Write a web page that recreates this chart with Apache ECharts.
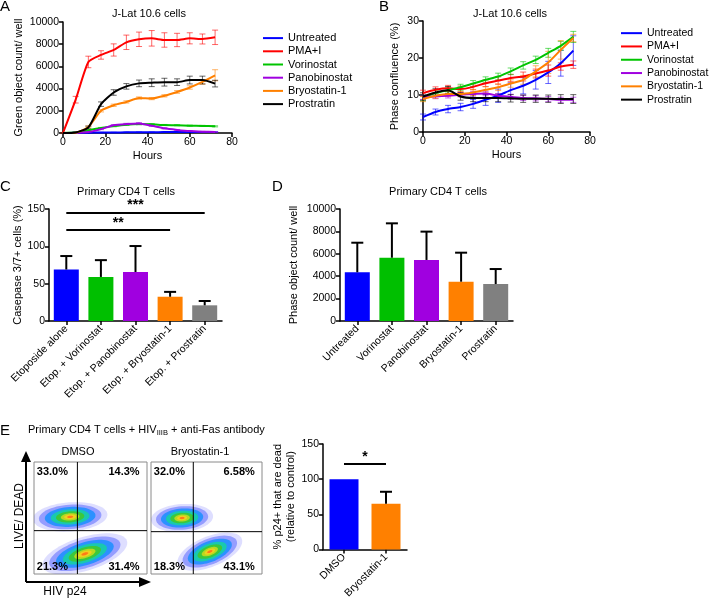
<!DOCTYPE html>
<html><head><meta charset="utf-8">
<script src="https://cdn.jsdelivr.net/npm/echarts@6/dist/echarts.min.js"></script>
<style>html,body{margin:0;padding:0;background:#fff}#c{width:712px;height:601px}</style>
</head><body><div id="c"></div><script>
// ---------- DATA ----------
const hours = [0,6,12,18,24,30,36,42,48,54,60,66,72];
const treatNames = ['Untreated','PMA+I','Vorinostat','Panobinostat','Bryostatin-1','Prostratin'];
// Panel A: green object count / well
const aUntreated = [0,20,30,40,50,60,70,70,80,80,80,90,90];
const aPma       = [0,3000,6400,7030,7480,8170,8440,8530,8380,8380,8530,8470,8620];
const aVorino    = [0,60,250,450,620,750,800,780,720,700,660,640,600];
const aPano      = [0,20,80,350,700,800,850,650,420,280,170,120,90];
const aBryo      = [0,30,550,2000,2500,2800,3150,3100,3350,3700,4100,4600,5200];
const aProst     = [0,50,500,2600,3650,4200,4470,4530,4580,4580,4770,4770,4450];
const aUntreatedErr = [10,10,10,15,15,15,15,15,20,20,20,20,20];
const aPmaErr       = [50,300,520,380,550,650,650,700,650,600,500,450,650];
const aVorinoErr    = [10,20,40,50,60,60,60,60,50,50,50,50,50];
const aPanoErr      = [10,10,30,50,60,70,80,60,50,40,30,30,20];
const aBryoErr      = [10,20,80,100,100,100,100,100,100,120,150,200,500];
const aProstErr     = [10,30,120,200,250,250,300,350,350,300,350,350,300];
// Panel B: phase confluence (%)
const bUntreated = [4.05,5.4,6.2,6.75,7.6,8.7,9.8,11.3,12.5,14.1,16.1,18.6,22.0];
const bPma       = [10.5,11.4,11.8,11.6,12.2,13.2,13.9,14.6,15.0,15.8,16.6,17.7,18.2];
const bVorino    = [9.2,10.5,11.3,12.1,13.1,14.1,15.0,16.4,18.0,19.5,21.4,23.3,25.7];
const bPano      = [9.4,9.6,9.8,10.1,10.3,10.4,9.8,9.5,9.2,9.1,8.9,8.7,8.7];
const bBryo      = [8.9,9.8,10.3,10.3,10.7,11.4,12.1,13.1,14.1,16.4,18.8,22.2,25.4];
const bProst     = [9.6,10.7,11.3,9.6,9.2,9.2,9.2,9.1,9.0,9.0,9.0,8.9,8.9];
const bUntreatedErr = [0.8,0.8,1,1,1.2,1.5,1.8,2,2.2,2.5,3,3.5,4];
const bPmaErr       = [0.8,0.8,0.8,0.8,0.8,0.9,1,1,1.2,1.2,1.5,1,1];
const bVorinoErr    = [0.8,0.8,0.8,0.8,0.8,0.8,0.9,0.9,1,1,1.2,1.2,1.5];
const bPanoErr      = [0.6,0.6,0.6,0.6,0.6,0.6,0.6,0.7,0.7,0.7,0.7,0.7,0.7];
const bBryoErr      = [0.7,0.7,0.7,0.7,0.8,0.8,0.9,1,1.2,1.5,3,2.5,1];
const bProstErr     = [1,1,1,1,1,1,1,1,1,1,1,1.2,1.2];
// Panel C: caspase 3/7+ cells (%)
const cCats = ['Etoposide alone','Etop. + Vorinostat','Etop. + Panobinostat','Etop. + Bryostatin-1','Etop. + Prostratin'];
const cVals = [69,59,65.6,32.5,21];
const cErrs = [18,22.5,34.8,6.5,5.8];
const cSig  = [['***',0,4,145.6],['**',0,3,121.9]];
// Panel D: phase object count / well
const dCats = ['Untreated','Vorinostat','Panobinostat','Bryostatin-1','Prostratin'];
const dVals = [4350,5650,5450,3510,3300];
const dErrs = [2640,3070,2530,2590,1340];
// Panel E: flow plots (quadrant %), gates, cell populations [cx, cy, spreadX, spreadY, angleDeg]
const eFlowTitles = ['DMSO','Bryostatin-1'];
const eDmsoPct = ['33.0%','14.3%','21.3%','31.4%'];
const eBryoPct = ['32.0%','6.58%','18.3%','43.1%'];
const eDmsoGate = [38.4,38.7];
const eBryoGate = [38.1,37.8];
const eDmsoPops = [[32,51,33,13,4],[45,18,39,15,17]];
const eBryoPops = [[28,50,28,12.5,4],[53,20,31,13.5,22]];
// Panel E bar: % p24+ dead relative to control
const eCats = ['DMSO','Bryostatin-1'];
const eVals = [100,65];
const eErrs = [0,17];
const eSig  = [['*',0,1,121.6]];

// ---------- STYLE ----------
const FONT = '"Liberation Sans", Arial, Helvetica, sans-serif';
const lineColors = ['#0000ff','#ff0000','#00c400','#a000e0','#ff8000','#000000'];
const barColorsC = ['#0000ff','#00bf00','#a000e0','#ff8000','#808080'];
const barColorsD = ['#0000ff','#00bf00','#a000e0','#ff8000','#808080'];
const barColorsE = ['#0000ff','#ff8000'];
const axLine = {show:true, lineStyle:{color:'#000', width:1.5}};
const axTick = {show:true, length:4, lineStyle:{color:'#000', width:1.5}};
const axLab = {color:'#000', fontSize:10.5, fontFamily:FONT, margin:4, formatter: v => String(v)};
const nameTS = {color:'#000', fontSize:11, fontFamily:FONT};
const titleTS = {fontSize:11, fontWeight:'normal', color:'#000', fontFamily:FONT};
const letterTS = {fontSize:15, fontWeight:'normal', color:'#000', fontFamily:FONT};

function valueAxis(gi, min, max, interval, name, gap, extra) {
  return Object.assign({type:'value', gridIndex:gi, min, max, interval, name, nameLocation:'middle', nameGap:gap,
    nameTextStyle:nameTS, axisLine:axLine, axisTick:axTick, axisLabel:axLab, splitLine:{show:false}}, extra||{});
}
function catAxis(gi, cats) {
  return {type:'category', gridIndex:gi, data:cats, axisLine:axLine,
    axisTick:{show:true, alignWithLabel:true, length:4, lineStyle:{color:'#000', width:1.5}},
    axisLabel:{color:'#000', fontSize:10.5, fontFamily:FONT, rotate:45, interval:0, margin:6}};
}
function hiddenAxis(gi){ return {type:'value', gridIndex:gi, min:0, max:100, show:false}; }

function errRender(color) {
  return function(params, api) {
    const x = api.value(0);
    const p1 = api.coord([x, api.value(1)]), p2 = api.coord([x, api.value(2)]);
    const w = 3, st = {stroke:color, lineWidth:1, opacity:0.6};
    return {type:'group', children:[
      {type:'line', shape:{x1:p1[0],y1:p1[1],x2:p2[0],y2:p2[1]}, style:st},
      {type:'line', shape:{x1:p1[0]-w,y1:p1[1],x2:p1[0]+w,y2:p1[1]}, style:st},
      {type:'line', shape:{x1:p2[0]-w,y1:p2[1],x2:p2[0]+w,y2:p2[1]}, style:st}
    ]};
  };
}
function barErrRender(params, api) {
  const x = api.value(0);
  const p1 = api.coord([x, api.value(1)]), p2 = api.coord([x, api.value(2)]);
  if (Math.abs(p1[1]-p2[1]) < 0.5) return null;
  const w = 6, st = {stroke:'#000', lineWidth:2};
  return {type:'group', children:[
    {type:'line', shape:{x1:p1[0],y1:p1[1],x2:p2[0],y2:p2[1]}, style:st},
    {type:'line', shape:{x1:p2[0]-w,y1:p2[1],x2:p2[0]+w,y2:p2[1]}, style:st}
  ]};
}

const series = [];
const aSets = [[aUntreated,aUntreatedErr],[aPma,aPmaErr],[aVorino,aVorinoErr],[aPano,aPanoErr],[aBryo,aBryoErr],[aProst,aProstErr]];
const bSets = [[bUntreated,bUntreatedErr],[bPma,bPmaErr],[bVorino,bVorinoErr],[bPano,bPanoErr],[bBryo,bBryoErr],[bProst,bProstErr]];
[aSets, bSets].forEach((sets, gi) => {
  sets.forEach((s, k) => {
    const vals = s[0], errs = s[1];
    series.push({type:'custom', name:'err'+gi+'_'+k, xAxisIndex:gi, yAxisIndex:gi, z:1, silent:true,
      renderItem:errRender(lineColors[k]), encode:{x:0, y:[1,2]},
      data:hours.map((h,i)=>[h, vals[i]-errs[i], vals[i]+errs[i]])});
    series.push({type:'line', name:treatNames[k], xAxisIndex:gi, yAxisIndex:gi, z:3, smooth:0.2,
      showSymbol:false, symbol:'none', color:lineColors[k], lineStyle:{width:2, color:lineColors[k]},
      data:hours.map((h,i)=>[h, vals[i]])});
  });
});

function sigMarkLine(sig, cats) {
  return {symbol:'none', silent:true, lineStyle:{color:'#000', width:2, type:'solid'},
    label:{show:true, position:'middle', formatter:'{b}', color:'#000', fontSize:14, fontWeight:'bold', fontFamily:FONT, distance:0},
    emphasis:{disabled:true},
    data: sig.map(s => [{name:s[0], coord:[cats[s[1]], s[3]]}, {coord:[cats[s[2]], s[3]]}])};
}
function addBars(gi, cats, vals, errs, colors, barW, sig) {
  series.push({type:'bar', xAxisIndex:gi, yAxisIndex:gi, barWidth:barW, z:2,
    data: vals.map((v,i)=>({value:v, itemStyle:{color:colors[i]}})),
    markLine: sig ? sigMarkLine(sig, cats) : undefined});
  series.push({type:'custom', xAxisIndex:gi, yAxisIndex:gi, z:3, silent:true, renderItem:barErrRender,
    encode:{x:0, y:[1,2]}, data: vals.map((v,i)=>[i, v, v+errs[i]])});
}
addBars(2, cCats, cVals, cErrs, barColorsC, 25, cSig);
addBars(3, dCats, dVals, dErrs, barColorsD, 25, null);
addBars(6, eCats, eVals, eErrs, barColorsE, 29, eSig);

// flow plots
const layers = [[1.0,'rgba(70,70,255,0.18)'],[0.84,'rgba(40,60,255,0.4)'],[0.68,'rgba(0,140,255,0.7)'],
  [0.52,'#19c8b0'],[0.38,'#3cc83c'],[0.25,'#b8d820'],[0.16,'#f0d020'],[0.08,'#ff7a18']];
function popRender(params, api) {
  const c = api.coord([api.value(0), api.value(1)]);
  const sz = api.size([api.value(2), api.value(3)]);
  const ang = api.value(4) * Math.PI / 180, ca = Math.cos(ang), sa = Math.sin(ang);
  const children = layers.map(L => {
    const rx = sz[0]*L[0], ry = sz[1]*L[0], pts = [];
    for (let k=0;k<60;k++){ const t=k/60*2*Math.PI, ex=rx*Math.cos(t), ey=ry*Math.sin(t);
      pts.push([c[0]+ex*ca-ey*sa, c[1]-(ex*sa+ey*ca)]); }
    return {type:'polygon', shape:{points:pts, smooth:0}, style:{fill:L[1]}};
  });
  return {type:'group', children};
}
function gateRender(params, api) {
  const p = api.coord([api.value(0), api.value(1)]), cs = params.coordSys;
  const st = {stroke:'#000', lineWidth:1};
  return {type:'group', children:[
    {type:'line', shape:{x1:p[0],y1:cs.y,x2:p[0],y2:cs.y+cs.height}, style:st},
    {type:'line', shape:{x1:cs.x,y1:p[1],x2:cs.x+cs.width,y2:p[1]}, style:st}]};
}
function pctRender(texts) {
  return function(params, api) {
    const x = api.value(0), p = api.coord([x, api.value(1)]);
    return {type:'text', x:p[0], y:p[1], style:{text:texts[params.dataIndex], fill:'#000',
      font:'bold 11px ' + FONT, align: x < 50 ? 'left' : 'right', verticalAlign:'middle',
      textAlign: x < 50 ? 'left' : 'right', textVerticalAlign:'middle'}};
  };
}
const pctPos = [[2.5,91.5],[93.5,91.5],[2.5,6.5],[93.5,6.5]];
[[4,eDmsoPops,eDmsoGate,eDmsoPct],[5,eBryoPops,eBryoGate,eBryoPct]].forEach(f => {
  const gi = f[0];
  series.push({type:'custom', xAxisIndex:gi, yAxisIndex:gi, clip:true, silent:true, z:1, renderItem:popRender, data:f[1]});
  series.push({type:'custom', xAxisIndex:gi, yAxisIndex:gi, silent:true, z:2, renderItem:gateRender, data:[f[2]]});
  series.push({type:'custom', xAxisIndex:gi, yAxisIndex:gi, silent:true, z:3, renderItem:pctRender(f[3]), data:pctPos});
});

const legendCommon = {orient:'vertical', icon:'rect', itemHeight:2, itemGap:0, selectedMode:false, data:treatNames};

const option = {
  animation:false,
  backgroundColor:'#fff',
  textStyle:{fontFamily:FONT},
  title:[
    {text:'A', left:0, top:-1, padding:0, textStyle:letterTS},
    {text:'J-Lat 10.6 cells', left:149, textAlign:'center', top:8, padding:0, textStyle:titleTS},
    {text:'B', left:379, top:-1, padding:0, textStyle:letterTS},
    {text:'J-Lat 10.6 cells', left:510, textAlign:'center', top:8, padding:0, textStyle:titleTS},
    {text:'C', left:0, top:179, padding:0, textStyle:letterTS},
    {text:'Primary CD4 T cells', left:126, textAlign:'center', top:186, padding:0, textStyle:titleTS},
    {text:'D', left:272, top:179, padding:0, textStyle:letterTS},
    {text:'Primary CD4 T cells', left:438, textAlign:'center', top:186, padding:0, textStyle:titleTS},
    {text:'E', left:0, top:423, padding:0, textStyle:letterTS},
    {text:'Primary CD4 T cells + HIV{s|IIIB} + anti-Fas antibody', left:28, top:423, padding:0,
      textStyle:{fontSize:11, fontWeight:'normal', color:'#000', fontFamily:FONT, lineHeight:14,
        rich:{s:{fontSize:7.5, fontFamily:FONT, color:'#000', verticalAlign:'bottom', lineHeight:8}}}},
    {text:eFlowTitles[0], left:78, textAlign:'center', top:446, padding:0, textStyle:titleTS},
    {text:eFlowTitles[1], left:200, textAlign:'center', top:446, padding:0, textStyle:titleTS}
  ],
  legend:[
    Object.assign({left:263, top:31.5, itemWidth:20, padding:0,
      textStyle:{color:'#000', fontSize:11, fontFamily:FONT, lineHeight:13.2}}, legendCommon),
    Object.assign({left:621, top:26.5, itemWidth:21, padding:0,
      textStyle:{color:'#000', fontSize:10.5, fontFamily:FONT, lineHeight:13.3}}, legendCommon)
  ],
  grid:[
    {left:63, top:22, width:169, height:111},
    {left:423, top:21, width:167, height:111},
    {left:49, top:209, width:173, height:112},
    {left:340, top:209, width:173, height:112},
    {left:34, top:462, width:113, height:112, show:true, borderColor:'#8a8a8a', borderWidth:1, backgroundColor:'#fff'},
    {left:151, top:462, width:111, height:112, show:true, borderColor:'#8a8a8a', borderWidth:1, backgroundColor:'#fff'},
    {left:323, top:444, width:84, height:111}
  ],
  xAxis:[
    valueAxis(0,0,80,20,'Hours',17),
    valueAxis(1,0,80,20,'Hours',17),
    catAxis(2,cCats),
    catAxis(3,dCats),
    hiddenAxis(4), hiddenAxis(5),
    catAxis(6,eCats)
  ],
  yAxis:[
    valueAxis(0,0,10000,2000,'Green object count/ well',39),
    valueAxis(1,0,30,10,'Phase confluence (%)',23),
    valueAxis(2,0,150,50,'Casepase 3/7+ cells (%)',24),
    valueAxis(3,0,10000,2000,'Phase object count/ well',41),
    hiddenAxis(4), hiddenAxis(5),
    valueAxis(6,0,150,50,'% p24+ that are dead\n(relative to control)',21, {nameTextStyle:Object.assign({}, nameTS, {lineHeight:13})})
  ],
  graphic:[
    {type:'polyline', shape:{points:[[26,582],[26,459]]}, style:{stroke:'#000', lineWidth:2}},
    {type:'polygon', shape:{points:[[21,462],[31,462],[26,451]]}, style:{fill:'#000'}},
    {type:'polyline', shape:{points:[[26,582],[142,582]]}, style:{stroke:'#000', lineWidth:2}},
    {type:'polygon', shape:{points:[[139,577],[139,587],[151,582]]}, style:{fill:'#000'}},
    {type:'text', x:20, y:516, rotation:Math.PI/2, style:{text:'LIVE/ DEAD', fill:'#000', font:'12px ' + FONT, align:'center', verticalAlign:'middle', textAlign:'center', textVerticalAlign:'middle'}},
    {type:'text', x:65, y:592, style:{text:'HIV p24', fill:'#000', font:'12px ' + FONT, align:'center', verticalAlign:'middle', textAlign:'center', textVerticalAlign:'middle'}}
  ],
  series
};
const chart = echarts.init(document.getElementById('c'), null, {renderer:'canvas'});
chart.setOption(option);
</script></body></html>
